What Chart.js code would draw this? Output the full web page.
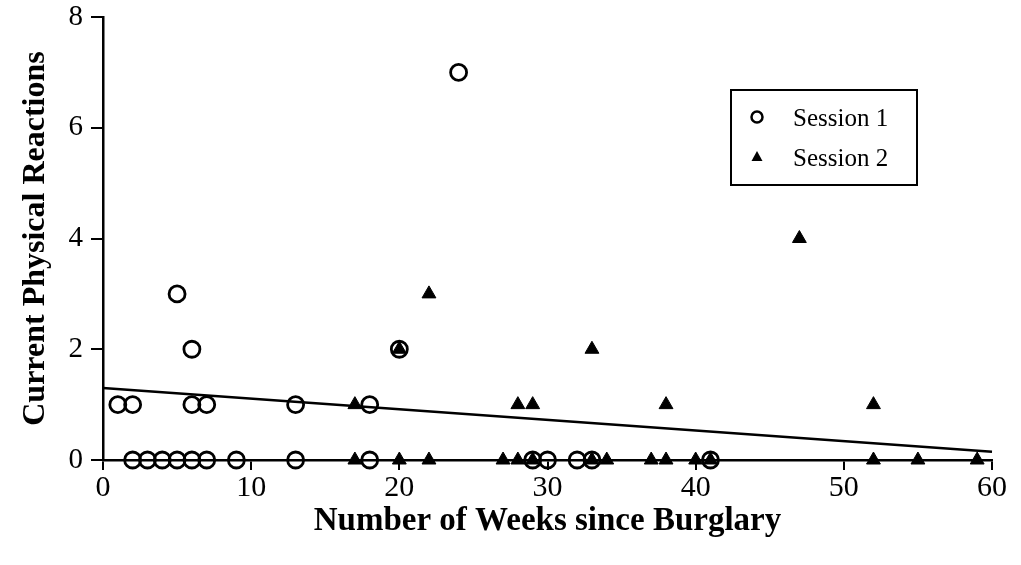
<!DOCTYPE html>
<html>
<head>
<meta charset="utf-8">
<script src="https://cdn.jsdelivr.net/npm/chart.js@4/dist/chart.umd.min.js"></script>
<style>
  body { margin: 0; background: #fff; }
  #wrap { width: 1021px; height: 565px; }
</style>
</head>
<body>
<div id="wrap"><canvas id="myChart" width="1021" height="565"></canvas></div>
<script>
// weeks since burglary / current physical reactions
var session1Weeks = [1, 2, 6, 7, 13, 18, 2, 3, 4, 5, 6, 7, 9, 13, 18, 29, 30, 32, 33, 41, 6, 20, 5, 24];
var session1Values = [1, 1, 1, 1, 1, 1, 0, 0, 0, 0, 0, 0, 0, 0, 0, 0, 0, 0, 0, 0, 2, 2, 3, 7];

var session2Weeks = [17, 28, 29, 38, 52, 20, 33, 22, 47, 17, 20, 22, 27, 28, 29, 33, 34, 37, 38, 40, 41, 52, 55, 59];
var session2Values = [1, 1, 1, 1, 1, 2, 2, 3, 4, 0, 0, 0, 0, 0, 0, 0, 0, 0, 0, 0, 0, 0, 0, 0];

// fitted trend line (end points)
var fitWeeks = [0, 60];
var fitValues = [1.3, 0.15];

var seriesLabels = ["Session 1", "Session 2"];
var xTitle = "Number of Weeks since Burglary";
var yTitle = "Current Physical Reactions";

function toPoints(xs, ys) {
    var pts = [];
    for (var i = 0; i < xs.length; i++) {
        pts.push({ x: xs[i], y: ys[i] });
    }
    return pts;
}

var serif = "'Liberation Serif', 'Times New Roman', serif";

// legend box drawn inside the plot, upper right
var boxLegend = {
    id: 'boxLegend',
    afterDraw: function(chart) {
        var ctx = chart.ctx;
        var x0 = 731, y0 = 90, w = 186, h = 95;
        ctx.save();
        ctx.strokeStyle = '#000';
        ctx.lineWidth = 2;
        ctx.strokeRect(x0, y0, w, h);
        ctx.font = '25px ' + serif;
        ctx.fillStyle = '#000';
        ctx.textBaseline = 'middle';

        // circle marker
        ctx.beginPath();
        ctx.lineWidth = 2.5;
        ctx.arc(757, 117, 5.5, 0, Math.PI * 2);
        ctx.stroke();
        ctx.fillText(seriesLabels[0], 793, 119);

        // triangle marker
        ctx.beginPath();
        ctx.moveTo(757, 151);
        ctx.lineTo(762.5, 161);
        ctx.lineTo(751.5, 161);
        ctx.closePath();
        ctx.fill();
        ctx.fillText(seriesLabels[1], 793, 159);
        ctx.restore();
    }
};

var ctx = document.getElementById("myChart");
var myChart = new Chart(ctx, {
    type: 'scatter',
    data: {
        datasets: [{
            label: seriesLabels[0],
            data: toPoints(session1Weeks, session1Values),
            pointStyle: 'circle',
            pointRadius: 8,
            pointBorderWidth: 2.8,
            borderColor: '#000',
            backgroundColor: 'rgba(0,0,0,0)',
            clip: false
        }, {
            label: seriesLabels[1],
            data: toPoints(session2Weeks, session2Values),
            pointStyle: 'triangle',
            pointRadius: 8,
            pointBorderWidth: 1,
            borderColor: '#000',
            backgroundColor: '#000',
            clip: false
        }, {
            type: 'line',
            label: 'fit',
            data: toPoints(fitWeeks, fitValues),
            borderColor: '#000',
            borderWidth: 2.5,
            pointRadius: 0,
            fill: false,
            clip: false
        }]
    },
    options: {
        responsive: false,
        animation: false,
        layout: { padding: { top: 17, right: 29, left: 0, bottom: 0 } },
        plugins: {
            legend: { display: false },
            tooltip: { enabled: false }
        },
        scales: {
            x: {
                type: 'linear',
                min: 0,
                max: 60,
                ticks: {
                    stepSize: 10,
                    color: '#000',
                    padding: 0,
                    font: { family: serif, size: 30 }
                },
                grid: {
                    drawOnChartArea: false,
                    drawTicks: true,
                    tickLength: 10,
                    color: '#000',
                    lineWidth: 2
                },
                border: { display: true, color: '#000', width: 2.5 },
                title: {
                    display: true,
                    text: xTitle,
                    color: '#000',
                    font: { family: serif, size: 33, weight: 'bold' },
                    padding: { top: 0, bottom: 24 }
                },
                afterFit: function(scale) {
                    scale.height = 105;
                    scale.paddingLeft = 0;
                    scale.paddingRight = 0;
                }
            },
            y: {
                type: 'linear',
                min: 0,
                max: 8,
                ticks: {
                    stepSize: 2,
                    color: '#000',
                    padding: 8,
                    font: { family: serif, size: 29 }
                },
                grid: {
                    drawOnChartArea: false,
                    drawTicks: true,
                    tickLength: 12,
                    color: '#000',
                    lineWidth: 2
                },
                border: { display: true, color: '#000', width: 2.5 },
                title: {
                    display: true,
                    text: yTitle,
                    color: '#000',
                    font: { family: serif, size: 32, weight: 'bold' },
                    padding: { top: 17, bottom: 0 }
                },
                afterFit: function(scale) {
                    scale.width = 103;
                    scale.paddingTop = 0;
                    scale.paddingBottom = 0;
                }
            }
        }
    },
    plugins: [boxLegend]
});
</script>
</body>
</html>
